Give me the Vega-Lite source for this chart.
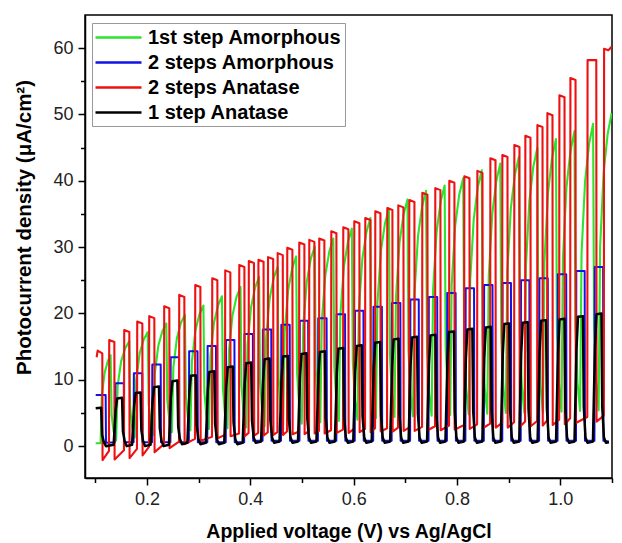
{
"$schema": "https://vega.github.io/schema/vega-lite/v6.json",
"width": 527, "height": 463,
"autosize": {"type": "none"},
"padding": {"left": 85, "top": 15, "right": 10, "bottom": 65},
"background": "white",
"config": {
 "font": "Liberation Sans",
 "view": {"stroke": "black", "strokeWidth": 1.5},
 "axis": {"domainColor": "black", "domainWidth": 1.5, "tickColor": "black", "tickWidth": 1.5, "labelColor": "#222", "labelFont": "Liberation Sans", "titleFont": "Liberation Sans", "titleFontWeight": "bold", "titleColor": "black", "grid": false}
},
"datasets": {
"green": [
{"x":0.1007,"y":0.45},
{"x":0.1102,"y":0.45},{"x":0.1126,"y":7.74},{"x":0.1180,"y":11.05},{"x":0.1238,"y":12.77},{"x":0.1296,"y":13.7},{"x":0.1315,"y":4.74},{"x":0.1354,"y":2.2},
{"x":0.1403,"y":0.9},{"x":0.1432,"y":9.1},{"x":0.1500,"y":12.82},{"x":0.1578,"y":14.76},{"x":0.1655,"y":15.8},{"x":0.1674,"y":5.65},{"x":0.1713,"y":2.9},
{"x":0.1762,"y":1.3},{"x":0.1791,"y":10.05},{"x":0.1859,"y":14.02},{"x":0.1937,"y":16.09},{"x":0.2014,"y":17.2},{"x":0.2033,"y":6.35},{"x":0.2072,"y":3.4},
{"x":0.2122,"y":1.7},{"x":0.2151,"y":10.94},{"x":0.2219,"y":15.14},{"x":0.2297,"y":17.32},{"x":0.2374,"y":18.5},{"x":0.2393,"y":7.02},{"x":0.2432,"y":3.9},
{"x":0.2481,"y":2.1},{"x":0.2510,"y":11.84},{"x":0.2578,"y":16.26},{"x":0.2656,"y":18.56},{"x":0.2733,"y":19.8},{"x":0.2752,"y":7.62},{"x":0.2791,"y":4.3},
{"x":0.2840,"y":2.4},{"x":0.2869,"y":12.74},{"x":0.2937,"y":17.44},{"x":0.3015,"y":19.88},{"x":0.3092,"y":21.2},{"x":0.3111,"y":8.18},{"x":0.3150,"y":4.6},
{"x":0.3199,"y":2.6},{"x":0.3228,"y":13.6},{"x":0.3296,"y":18.6},{"x":0.3374,"y":21.2},{"x":0.3451,"y":22.6},{"x":0.3470,"y":8.67},{"x":0.3509,"y":4.9},
{"x":0.3558,"y":2.7},{"x":0.3587,"y":14.42},{"x":0.3655,"y":19.74},{"x":0.3733,"y":22.51},{"x":0.3810,"y":24.0},{"x":0.3829,"y":9.16},{"x":0.3868,"y":5.1},
{"x":0.3917,"y":2.8},{"x":0.3946,"y":15.29},{"x":0.4014,"y":20.96},{"x":0.4092,"y":23.91},{"x":0.4169,"y":25.5},{"x":0.4188,"y":9.75},{"x":0.4227,"y":5.4},
{"x":0.4276,"y":3.0},{"x":0.4305,"y":16.2},{"x":0.4373,"y":22.2},{"x":0.4451,"y":25.32},{"x":0.4528,"y":27.0},{"x":0.4547,"y":10.34},{"x":0.4586,"y":5.8},
{"x":0.4635,"y":3.2},{"x":0.4664,"y":17.17},{"x":0.4732,"y":23.52},{"x":0.4810,"y":26.82},{"x":0.4887,"y":28.6},{"x":0.4906,"y":10.96},{"x":0.4945,"y":6.1},
{"x":0.4995,"y":3.4},{"x":0.5024,"y":18.09},{"x":0.5092,"y":24.76},{"x":0.5170,"y":28.23},{"x":0.5247,"y":30.1},{"x":0.5266,"y":11.55},{"x":0.5305,"y":6.5},
{"x":0.5354,"y":3.6},{"x":0.5383,"y":18.84},{"x":0.5451,"y":25.76},{"x":0.5529,"y":29.36},{"x":0.5606,"y":31.3},{"x":0.5625,"y":12.05},{"x":0.5664,"y":6.8},
{"x":0.5713,"y":3.8},{"x":0.5742,"y":19.75},{"x":0.5810,"y":27.0},{"x":0.5888,"y":30.77},{"x":0.5965,"y":32.8},{"x":0.5984,"y":12.64},{"x":0.6023,"y":7.1},
{"x":0.6072,"y":4.0},{"x":0.6101,"y":20.72},{"x":0.6169,"y":28.32},{"x":0.6247,"y":32.27},{"x":0.6324,"y":34.4},{"x":0.6343,"y":13.26},{"x":0.6382,"y":7.4},
{"x":0.6431,"y":4.2},{"x":0.6460,"y":21.58},{"x":0.6528,"y":29.48},{"x":0.6606,"y":33.59},{"x":0.6683,"y":35.8},{"x":0.6702,"y":13.82},{"x":0.6741,"y":7.8},
{"x":0.6790,"y":4.4},{"x":0.6819,"y":22.44},{"x":0.6887,"y":30.64},{"x":0.6965,"y":34.9},{"x":0.7042,"y":37.2},{"x":0.7061,"y":14.31},{"x":0.7100,"y":8.0},
{"x":0.7149,"y":4.5},{"x":0.7178,"y":23.2},{"x":0.7246,"y":31.7},{"x":0.7324,"y":36.12},{"x":0.7401,"y":38.5},{"x":0.7420,"y":14.77},{"x":0.7459,"y":8.2},
{"x":0.7509,"y":4.6},{"x":0.7538,"y":23.69},{"x":0.7606,"y":32.36},{"x":0.7684,"y":36.87},{"x":0.7761,"y":39.3},{"x":0.7780,"y":15.08},{"x":0.7819,"y":8.4},
{"x":0.7868,"y":4.7},{"x":0.7897,"y":24.34},{"x":0.7965,"y":33.26},{"x":0.8043,"y":37.9},{"x":0.8120,"y":40.4},{"x":0.8139,"y":15.48},{"x":0.8178,"y":8.6},
{"x":0.8227,"y":4.8},{"x":0.8256,"y":25.04},{"x":0.8324,"y":34.24},{"x":0.8402,"y":39.02},{"x":0.8479,"y":41.6},{"x":0.8498,"y":15.91},{"x":0.8537,"y":8.8},
{"x":0.8586,"y":4.9},{"x":0.8615,"y":25.64},{"x":0.8683,"y":35.06},{"x":0.8761,"y":39.96},{"x":0.8838,"y":42.6},{"x":0.8857,"y":16.28},{"x":0.8896,"y":9.0},
{"x":0.8945,"y":5.0},{"x":0.8974,"y":26.23},{"x":0.9042,"y":35.88},{"x":0.9120,"y":40.9},{"x":0.9197,"y":43.6},{"x":0.9216,"y":16.58},{"x":0.9255,"y":9.1},
{"x":0.9304,"y":5.0},{"x":0.9333,"y":27.0},{"x":0.9401,"y":37.0},{"x":0.9479,"y":42.2},{"x":0.9556,"y":45.0},{"x":0.9575,"y":17.07},{"x":0.9614,"y":9.3},
{"x":0.9663,"y":5.1},{"x":0.9692,"y":27.76},{"x":0.9760,"y":38.06},{"x":0.9838,"y":43.42},{"x":0.9915,"y":46.3},{"x":0.9934,"y":17.53},{"x":0.9973,"y":9.5},
{"x":1.0022,"y":5.2},{"x":1.0051,"y":28.47},{"x":1.0119,"y":39.04},{"x":1.0197,"y":44.54},{"x":1.0274,"y":47.5},{"x":1.0293,"y":17.96},{"x":1.0332,"y":9.7},
{"x":1.0382,"y":5.3},{"x":1.0411,"y":29.12},{"x":1.0479,"y":39.94},{"x":1.0557,"y":45.57},{"x":1.0634,"y":48.6},{"x":1.0653,"y":18.36},{"x":1.0692,"y":9.9},
{"x":1.0741,"y":5.4},{"x":1.0770,"y":30.04},{"x":1.0838,"y":41.24},{"x":1.0916,"y":47.06},{"x":1.0993,"y":50.2}
],
"blue": [
{"x":0.1007,"y":7.7},{"x":0.1200,"y":7.7},{"x":0.1206,"y":0.5},
{"x":0.1383,"y":0.6},{"x":0.1389,"y":9.5},{"x":0.1551,"y":9.5},{"x":0.1557,"y":0.6},
{"x":0.1740,"y":0.6},{"x":0.1746,"y":11.0},{"x":0.1908,"y":11.0},{"x":0.1914,"y":0.6},
{"x":0.2097,"y":0.6},{"x":0.2103,"y":12.3},{"x":0.2265,"y":12.3},{"x":0.2271,"y":0.6},
{"x":0.2453,"y":0.6},{"x":0.2459,"y":13.4},{"x":0.2621,"y":13.4},{"x":0.2627,"y":0.6},
{"x":0.2810,"y":0.6},{"x":0.2816,"y":14.3},{"x":0.2978,"y":14.3},{"x":0.2984,"y":0.6},
{"x":0.3167,"y":0.6},{"x":0.3173,"y":15.1},{"x":0.3335,"y":15.1},{"x":0.3341,"y":0.6},
{"x":0.3524,"y":0.6},{"x":0.3530,"y":16.0},{"x":0.3692,"y":16.0},{"x":0.3698,"y":0.6},
{"x":0.3881,"y":0.6},{"x":0.3887,"y":16.9},{"x":0.4049,"y":16.9},{"x":0.4055,"y":0.8},
{"x":0.4237,"y":0.8},{"x":0.4243,"y":17.6},{"x":0.4405,"y":17.6},{"x":0.4411,"y":0.8},
{"x":0.4594,"y":0.8},{"x":0.4600,"y":18.3},{"x":0.4762,"y":18.3},{"x":0.4768,"y":0.8},
{"x":0.4951,"y":0.8},{"x":0.4957,"y":18.9},{"x":0.5119,"y":18.9},{"x":0.5125,"y":0.8},
{"x":0.5308,"y":0.8},{"x":0.5314,"y":19.3},{"x":0.5476,"y":19.3},{"x":0.5482,"y":0.8},
{"x":0.5665,"y":0.8},{"x":0.5671,"y":19.9},{"x":0.5833,"y":19.9},{"x":0.5839,"y":0.8},
{"x":0.6021,"y":0.8},{"x":0.6027,"y":20.4},{"x":0.6189,"y":20.4},{"x":0.6195,"y":0.8},
{"x":0.6378,"y":0.8},{"x":0.6384,"y":21.0},{"x":0.6546,"y":21.0},{"x":0.6552,"y":0.8},
{"x":0.6735,"y":0.8},{"x":0.6741,"y":21.6},{"x":0.6903,"y":21.6},{"x":0.6909,"y":0.8},
{"x":0.7092,"y":0.8},{"x":0.7098,"y":22.1},{"x":0.7260,"y":22.1},{"x":0.7266,"y":0.8},
{"x":0.7449,"y":0.8},{"x":0.7455,"y":22.5},{"x":0.7617,"y":22.5},{"x":0.7623,"y":0.8},
{"x":0.7805,"y":0.8},{"x":0.7811,"y":23.1},{"x":0.7973,"y":23.1},{"x":0.7979,"y":0.8},
{"x":0.8162,"y":0.8},{"x":0.8168,"y":23.8},{"x":0.8330,"y":23.8},{"x":0.8336,"y":0.8},
{"x":0.8519,"y":0.8},{"x":0.8525,"y":24.3},{"x":0.8687,"y":24.3},{"x":0.8693,"y":0.8},
{"x":0.8876,"y":0.8},{"x":0.8882,"y":24.6},{"x":0.9044,"y":24.6},{"x":0.9050,"y":0.8},
{"x":0.9233,"y":0.8},{"x":0.9239,"y":25.0},{"x":0.9401,"y":25.0},{"x":0.9407,"y":0.8},
{"x":0.9589,"y":0.8},{"x":0.9595,"y":25.3},{"x":0.9757,"y":25.3},{"x":0.9763,"y":0.8},
{"x":0.9946,"y":0.8},{"x":0.9952,"y":25.9},{"x":1.0114,"y":25.9},{"x":1.0120,"y":0.8},
{"x":1.0303,"y":0.8},{"x":1.0309,"y":26.4},{"x":1.0471,"y":26.4},{"x":1.0477,"y":0.8},
{"x":1.0660,"y":0.8},{"x":1.0666,"y":27.0},{"x":1.0828,"y":27.0},{"x":1.0834,"y":0.8},
{"x":1.0940,"y":0.7}
],
"red": [
{"x":0.1025,"y":13.4},{"x":0.1045,"y":14.4},{"x":0.1135,"y":14.0},{"x":0.1140,"y":-2.1},
{"x":0.1264,"y":-0.7},{"x":0.1269,"y":16.0},{"x":0.1368,"y":15.7},{"x":0.1373,"y":-2.0},
{"x":0.1554,"y":-0.6},{"x":0.1559,"y":17.5},{"x":0.1658,"y":17.2},{"x":0.1663,"y":-1.8},
{"x":0.1806,"y":-0.4},{"x":0.1811,"y":18.8},{"x":0.1910,"y":18.5},{"x":0.1915,"y":-1.4},
{"x":0.2038,"y":-0.1},{"x":0.2043,"y":19.6},{"x":0.2142,"y":19.3},{"x":0.2147,"y":-0.9},
{"x":0.2328,"y":0.3},{"x":0.2333,"y":21.1},{"x":0.2432,"y":20.8},{"x":0.2437,"y":-0.3},
{"x":0.2619,"y":0.7},{"x":0.2624,"y":22.8},{"x":0.2723,"y":22.5},{"x":0.2728,"y":0.3},
{"x":0.2929,"y":1.1},{"x":0.2934,"y":24.3},{"x":0.3033,"y":24.0},{"x":0.3038,"y":0.8},
{"x":0.3258,"y":1.4},{"x":0.3263,"y":25.3},{"x":0.3362,"y":25.0},{"x":0.3367,"y":1.2},
{"x":0.3509,"y":1.7},{"x":0.3514,"y":26.5},{"x":0.3613,"y":26.2},{"x":0.3618,"y":1.5},
{"x":0.3781,"y":1.9},{"x":0.3786,"y":27.3},{"x":0.3885,"y":27.0},{"x":0.3890,"y":1.5},
{"x":0.3966,"y":2.0},{"x":0.3971,"y":27.9},{"x":0.4070,"y":27.6},{"x":0.4075,"y":1.6},
{"x":0.4152,"y":2.0},{"x":0.4157,"y":28.1},{"x":0.4256,"y":27.8},{"x":0.4261,"y":1.6},
{"x":0.4338,"y":2.1},{"x":0.4343,"y":28.5},{"x":0.4442,"y":28.2},{"x":0.4447,"y":1.7},
{"x":0.4524,"y":2.1},{"x":0.4529,"y":29.1},{"x":0.4628,"y":28.8},{"x":0.4633,"y":1.7},
{"x":0.4710,"y":2.2},{"x":0.4715,"y":29.9},{"x":0.4814,"y":29.6},{"x":0.4819,"y":1.8},
{"x":0.4942,"y":2.2},{"x":0.4947,"y":30.7},{"x":0.5046,"y":30.4},{"x":0.5051,"y":1.8},
{"x":0.5136,"y":2.3},{"x":0.5141,"y":31.1},{"x":0.5240,"y":30.8},{"x":0.5245,"y":1.9},
{"x":0.5329,"y":2.3},{"x":0.5334,"y":31.3},{"x":0.5433,"y":31.0},{"x":0.5438,"y":1.9},
{"x":0.5562,"y":2.4},{"x":0.5567,"y":32.4},{"x":0.5666,"y":32.1},{"x":0.5671,"y":2.0},
{"x":0.5794,"y":2.5},{"x":0.5799,"y":33.0},{"x":0.5898,"y":32.7},{"x":0.5903,"y":2.0},
{"x":0.6007,"y":2.6},{"x":0.6012,"y":33.9},{"x":0.6111,"y":33.6},{"x":0.6116,"y":2.1},
{"x":0.6220,"y":2.6},{"x":0.6225,"y":34.4},{"x":0.6324,"y":34.1},{"x":0.6329,"y":2.1},
{"x":0.6414,"y":2.7},{"x":0.6419,"y":35.4},{"x":0.6518,"y":35.1},{"x":0.6523,"y":2.2},
{"x":0.6646,"y":2.7},{"x":0.6651,"y":35.9},{"x":0.6750,"y":35.6},{"x":0.6755,"y":2.2},
{"x":0.6859,"y":2.8},{"x":0.6864,"y":36.3},{"x":0.6963,"y":36.0},{"x":0.6968,"y":2.3},
{"x":0.7072,"y":2.8},{"x":0.7077,"y":37.1},{"x":0.7176,"y":36.8},{"x":0.7181,"y":2.3},
{"x":0.7324,"y":2.9},{"x":0.7329,"y":38.2},{"x":0.7428,"y":37.9},{"x":0.7433,"y":2.4},
{"x":0.7575,"y":3.0},{"x":0.7580,"y":38.9},{"x":0.7679,"y":38.6},{"x":0.7684,"y":2.4},
{"x":0.7846,"y":3.1},{"x":0.7851,"y":40.0},{"x":0.7950,"y":39.7},{"x":0.7955,"y":2.5},
{"x":0.8137,"y":3.2},{"x":0.8142,"y":40.7},{"x":0.8241,"y":40.4},{"x":0.8246,"y":2.6},
{"x":0.8389,"y":3.3},{"x":0.8394,"y":41.5},{"x":0.8493,"y":41.2},{"x":0.8498,"y":2.7},
{"x":0.8641,"y":3.4},{"x":0.8646,"y":43.4},{"x":0.8745,"y":43.1},{"x":0.8750,"y":2.8},
{"x":0.8873,"y":3.5},{"x":0.8878,"y":43.9},{"x":0.8977,"y":43.6},{"x":0.8982,"y":2.8},
{"x":0.9105,"y":3.6},{"x":0.9110,"y":45.4},{"x":0.9209,"y":45.1},{"x":0.9214,"y":2.9},
{"x":0.9318,"y":3.7},{"x":0.9323,"y":46.8},{"x":0.9422,"y":46.5},{"x":0.9427,"y":3.0},
{"x":0.9551,"y":3.8},{"x":0.9556,"y":48.4},{"x":0.9655,"y":48.1},{"x":0.9660,"y":3.1},
{"x":0.9744,"y":3.9},{"x":0.9749,"y":50.2},{"x":0.9848,"y":49.9},{"x":0.9853,"y":3.2},
{"x":0.9977,"y":4.0},{"x":0.9982,"y":52.9},{"x":1.0081,"y":52.6},{"x":1.0086,"y":3.3},
{"x":1.0190,"y":4.2},{"x":1.0195,"y":55.5},{"x":1.0294,"y":55.2},{"x":1.0299,"y":3.5},
{"x":1.0522,"y":4.4},{"x":1.0527,"y":58.2},{"x":1.0696,"y":58.2},{"x":1.0701,"y":3.7},
{"x":1.0842,"y":4.6},{"x":1.0847,"y":59.9},{"x":1.0930,"y":59.7},{"x":1.0993,"y":60.2}
],
"black": [
{"x":0.1007,"y":5.7},{"x":0.1113,"y":5.8},{"x":0.1131,"y":1.7},{"x":0.1166,"y":0.6},{"x":0.1205,"y":0.0},
{"x":0.1354,"y":0.2},{"x":0.1393,"y":5.4},{"x":0.1422,"y":7.2},{"x":0.1518,"y":7.3},{"x":0.1534,"y":2.2},{"x":0.1567,"y":0.8},{"x":0.1606,"y":0.0},
{"x":0.1711,"y":0.2},{"x":0.1750,"y":6.0},{"x":0.1779,"y":8.0},{"x":0.1875,"y":8.1},{"x":0.1891,"y":2.4},{"x":0.1924,"y":0.8},{"x":0.1963,"y":0.0},
{"x":0.2068,"y":0.2},{"x":0.2107,"y":6.7},{"x":0.2136,"y":8.9},{"x":0.2232,"y":9.0},{"x":0.2248,"y":2.7},{"x":0.2281,"y":0.8},{"x":0.2320,"y":0.0},
{"x":0.2424,"y":0.2},{"x":0.2463,"y":7.4},{"x":0.2492,"y":9.8},{"x":0.2588,"y":9.9},{"x":0.2604,"y":2.9},{"x":0.2637,"y":1.1},{"x":0.2676,"y":0.3},
{"x":0.2781,"y":0.5},{"x":0.2820,"y":8.0},{"x":0.2849,"y":10.6},{"x":0.2945,"y":10.7},{"x":0.2961,"y":3.2},{"x":0.2994,"y":1.1},{"x":0.3033,"y":0.3},
{"x":0.3138,"y":0.5},{"x":0.3177,"y":8.4},{"x":0.3206,"y":11.2},{"x":0.3302,"y":11.3},{"x":0.3318,"y":3.4},{"x":0.3351,"y":1.1},{"x":0.3390,"y":0.3},
{"x":0.3495,"y":0.5},{"x":0.3534,"y":8.9},{"x":0.3563,"y":11.9},{"x":0.3659,"y":12.0},{"x":0.3675,"y":3.6},{"x":0.3708,"y":1.1},{"x":0.3747,"y":0.3},
{"x":0.3852,"y":0.5},{"x":0.3891,"y":9.4},{"x":0.3920,"y":12.5},{"x":0.4016,"y":12.6},{"x":0.4032,"y":3.8},{"x":0.4065,"y":1.3},{"x":0.4104,"y":0.5},
{"x":0.4208,"y":0.7},{"x":0.4247,"y":9.8},{"x":0.4276,"y":13.1},{"x":0.4372,"y":13.2},{"x":0.4388,"y":3.9},{"x":0.4421,"y":1.3},{"x":0.4460,"y":0.5},
{"x":0.4565,"y":0.7},{"x":0.4604,"y":10.1},{"x":0.4633,"y":13.5},{"x":0.4729,"y":13.6},{"x":0.4745,"y":4.1},{"x":0.4778,"y":1.3},{"x":0.4817,"y":0.5},
{"x":0.4922,"y":0.7},{"x":0.4961,"y":10.4},{"x":0.4990,"y":13.9},{"x":0.5086,"y":14.0},{"x":0.5102,"y":4.2},{"x":0.5135,"y":1.3},{"x":0.5174,"y":0.5},
{"x":0.5279,"y":0.7},{"x":0.5318,"y":10.7},{"x":0.5347,"y":14.2},{"x":0.5443,"y":14.3},{"x":0.5459,"y":4.3},{"x":0.5492,"y":1.3},{"x":0.5531,"y":0.5},
{"x":0.5636,"y":0.7},{"x":0.5675,"y":11.0},{"x":0.5704,"y":14.7},{"x":0.5800,"y":14.8},{"x":0.5816,"y":4.4},{"x":0.5849,"y":1.3},{"x":0.5888,"y":0.5},
{"x":0.5992,"y":0.7},{"x":0.6031,"y":11.3},{"x":0.6060,"y":15.1},{"x":0.6156,"y":15.2},{"x":0.6172,"y":4.5},{"x":0.6205,"y":1.3},{"x":0.6244,"y":0.5},
{"x":0.6349,"y":0.7},{"x":0.6388,"y":11.7},{"x":0.6417,"y":15.6},{"x":0.6513,"y":15.7},{"x":0.6529,"y":4.7},{"x":0.6562,"y":1.3},{"x":0.6601,"y":0.5},
{"x":0.6706,"y":0.7},{"x":0.6745,"y":12.1},{"x":0.6774,"y":16.1},{"x":0.6870,"y":16.2},{"x":0.6886,"y":4.8},{"x":0.6919,"y":1.3},{"x":0.6958,"y":0.5},
{"x":0.7063,"y":0.7},{"x":0.7102,"y":12.3},{"x":0.7131,"y":16.4},{"x":0.7227,"y":16.5},{"x":0.7243,"y":4.9},{"x":0.7276,"y":1.3},{"x":0.7315,"y":0.5},
{"x":0.7420,"y":0.7},{"x":0.7459,"y":12.5},{"x":0.7488,"y":16.7},{"x":0.7584,"y":16.8},{"x":0.7600,"y":5.0},{"x":0.7633,"y":1.3},{"x":0.7672,"y":0.5},
{"x":0.7776,"y":0.7},{"x":0.7815,"y":12.9},{"x":0.7844,"y":17.2},{"x":0.7940,"y":17.3},{"x":0.7956,"y":5.2},{"x":0.7989,"y":1.3},{"x":0.8028,"y":0.5},
{"x":0.8133,"y":0.7},{"x":0.8172,"y":13.2},{"x":0.8201,"y":17.6},{"x":0.8297,"y":17.7},{"x":0.8313,"y":5.3},{"x":0.8346,"y":1.3},{"x":0.8385,"y":0.5},
{"x":0.8490,"y":0.7},{"x":0.8529,"y":13.4},{"x":0.8558,"y":17.9},{"x":0.8654,"y":18.0},{"x":0.8670,"y":5.4},{"x":0.8703,"y":1.3},{"x":0.8742,"y":0.5},
{"x":0.8847,"y":0.7},{"x":0.8886,"y":13.8},{"x":0.8915,"y":18.4},{"x":0.9011,"y":18.5},{"x":0.9027,"y":5.5},{"x":0.9060,"y":1.3},{"x":0.9099,"y":0.5},
{"x":0.9204,"y":0.7},{"x":0.9243,"y":14.0},{"x":0.9272,"y":18.6},{"x":0.9368,"y":18.7},{"x":0.9384,"y":5.6},{"x":0.9417,"y":1.3},{"x":0.9456,"y":0.5},
{"x":0.9560,"y":0.7},{"x":0.9599,"y":14.2},{"x":0.9628,"y":18.9},{"x":0.9724,"y":19.0},{"x":0.9740,"y":5.7},{"x":0.9773,"y":1.3},{"x":0.9812,"y":0.5},
{"x":0.9917,"y":0.7},{"x":0.9956,"y":14.3},{"x":0.9985,"y":19.1},{"x":1.0081,"y":19.2},{"x":1.0097,"y":5.7},{"x":1.0130,"y":1.3},{"x":1.0169,"y":0.5},
{"x":1.0274,"y":0.7},{"x":1.0313,"y":14.6},{"x":1.0342,"y":19.5},{"x":1.0438,"y":19.6},{"x":1.0454,"y":5.9},{"x":1.0487,"y":1.3},{"x":1.0526,"y":0.5},
{"x":1.0631,"y":0.7},{"x":1.0670,"y":14.9},{"x":1.0699,"y":19.9},{"x":1.0795,"y":20.0},{"x":1.0811,"y":6.0},{"x":1.0844,"y":1.3},{"x":1.0883,"y":0.5},
{"x":1.0940,"y":0.6}
]
},
"encoding": {
 "x": {"field": "x", "type": "quantitative", "scale": {"domain": [0.08, 1.1], "nice": false, "zero": false},
  "axis": {"title": "Applied voltage (V) vs Ag/AgCl", "values": [0.1,0.2,0.3,0.4,0.5,0.6,0.7,0.8,0.9,1.0,1.1],
   "labelExpr": "round(datum.value*10) % 2 == 0 ? format(datum.value, '.1f') : ''",
   "tickSize": {"condition": {"test": "round(datum.value*10) % 2 == 0", "value": 7}, "value": 4.5},
   "labelFontSize": 18, "titleFontSize": 19.5, "labelPadding": 5, "titlePadding": 14, "labelFlush": false}},
 "y": {"field": "y", "type": "quantitative", "scale": {"domain": [-4.8, 65], "nice": false, "zero": false},
  "axis": {"title": "Photocurrent density (μA/cm²)", "values": [0,5,10,15,20,25,30,35,40,45,50,55,60],
   "labelExpr": "datum.value % 10 == 0 ? datum.label : ''",
   "tickSize": {"condition": {"test": "datum.value % 10 == 0", "value": 7}, "value": 4.5},
   "labelFontSize": 18, "titleFontSize": 20.5, "labelPadding": 5, "titlePadding": 18, "titleY": 212}}
},
"layer": [
 {"data": {"name": "green"}, "mark": {"type": "line", "strokeWidth": 2.1, "strokeJoin": "round", "clip": true},
  "encoding": {"color": {"datum": "1st step Amorphous", "type": "nominal",
   "scale": {"domain": ["1st step Amorphous", "2 steps Amorphous", "2 steps Anatase", "1 step Anatase"], "range": ["#2ee22e", "#1212e6", "#ee1111", "#000000"]},
   "legend": {"title": null, "orient": "none", "legendX": 7, "legendY": 8, "strokeColor": "#999", "fillColor": "white", "padding": 3,
    "labelFontSize": 20, "labelFontWeight": "bold", "labelColor": "black", "labelFont": "Liberation Sans", "labelLimit": 400,
    "symbolType": "M-1.1,0L3.5,0", "symbolSize": 400, "symbolStrokeWidth": 2.5, "labelOffset": 30, "rowPadding": 3}}}},
 {"data": {"name": "blue"}, "mark": {"type": "line", "strokeWidth": 2, "strokeJoin": "round", "clip": true},
  "encoding": {"color": {"datum": "2 steps Amorphous", "type": "nominal"}}},
 {"data": {"name": "red"}, "mark": {"type": "line", "strokeWidth": 2.1, "strokeJoin": "round", "clip": true},
  "encoding": {"color": {"datum": "2 steps Anatase", "type": "nominal"}}},
 {"data": {"name": "black"}, "mark": {"type": "line", "strokeWidth": 2.5, "strokeJoin": "round", "clip": true},
  "encoding": {"color": {"datum": "1 step Anatase", "type": "nominal"}}}
]
}
